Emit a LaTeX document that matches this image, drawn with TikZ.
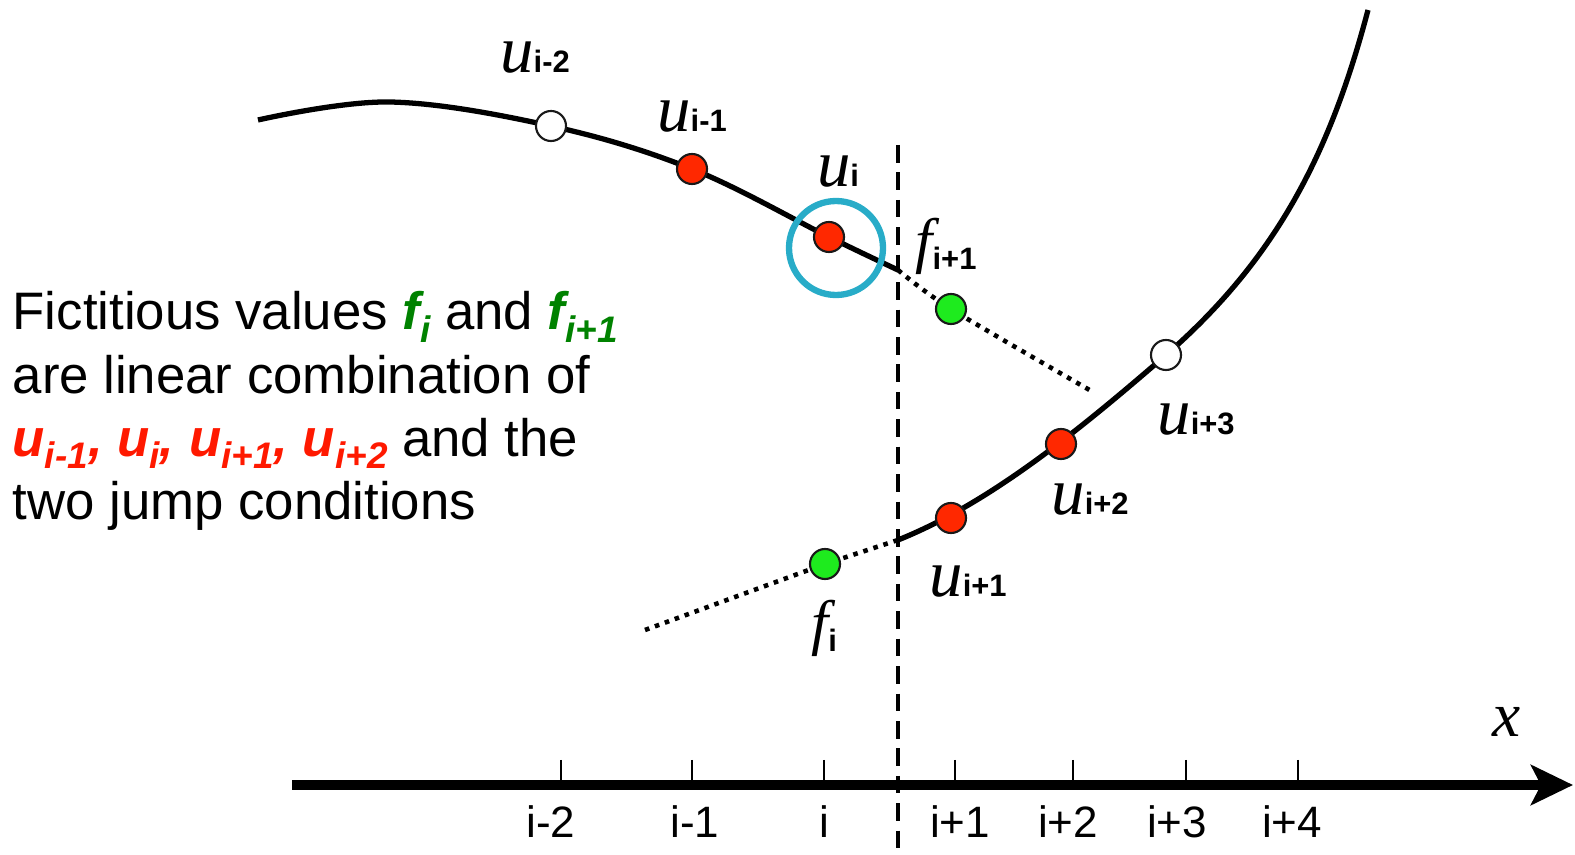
\documentclass[tikz,border=0pt]{standalone}
\usepackage{fontspec}
\setmainfont{Liberation Sans}
\newfontfamily\timesfont{Liberation Serif}
\usetikzlibrary{arrows.meta, positioning}

\definecolor{ptred}{RGB}{255,40,0}
\definecolor{ptgreen}{RGB}{30,235,30}
\definecolor{txtgreen}{RGB}{0,130,0}
\definecolor{txtred}{RGB}{255,25,0}
\definecolor{ringblue}{RGB}{40,172,200}

% labels on the curves
\newcommand{\uvar}[1]{{\fontsize{19}{19}\selectfont\timesfont\itshape u}{\fontsize{8.8}{9}\selectfont\bfseries #1}}
\newcommand{\fvar}[1]{{\fontsize{17.5}{18}\selectfont\timesfont\itshape f}\raisebox{-2.5pt}{\fontsize{8.8}{9}\selectfont\bfseries #1}}
% subscript in the text block
\newcommand{\bsub}[1]{\raisebox{-3.5pt}{\fontsize{10.5}{11}\selectfont #1}}

\begin{document}
\begin{tikzpicture}[
        x=0.01cm, y=-0.01cm,
        openpt/.style={
            circle,
            draw=black!90,
            line width=0.6pt,
            fill=white,
            minimum size=0.3cm,
            inner sep=0pt
        },
        redpt/.style={openpt, fill=ptred},
        greenpt/.style={openpt, fill=ptgreen},
        curve/.style={line width=1.5pt},
        extrap/.style={line width=1.3pt, dash pattern=on 1.3pt off 1.7pt},
        interface/.style={line width=1.4pt, dash pattern=on 5pt off 2.8pt},
        tickmark/.style={line width=0.6pt},
        axis/.style={line width=2.8pt, -{Stealth[length=0.42cm, width=0.4cm, inset=0.1cm]}},
        ticklabel/.style={font=\fontsize{12.5}{13}\selectfont, inner sep=0pt},
        ptlabel/.style={inner sep=0pt}
    ]

    \useasboundingbox (0,0) rectangle (1575,855);

    % grid points on the curves
    \coordinate (ustart) at (258,120);
    \coordinate (upeak)  at (390,102);
    \coordinate (pim2)   at (551,126);
    \coordinate (pim1)   at (692,169);
    \coordinate (pi)     at (829,237);
    \coordinate (jup)    at (898,270);
    \coordinate (fip1)   at (951,309);
    \coordinate (uend)   at (1093,392);
    \coordinate (lstart) at (645,630);
    \coordinate (fi)     at (825,564);
    \coordinate (jlo)    at (898,540);
    \coordinate (pip1)   at (951,518);
    \coordinate (pip2)   at (1061,444);
    \coordinate (pip3)   at (1166,355);
    \coordinate (lend)   at (1368,10);

    % interface
    \coordinate (itop) at (898,145);
    \coordinate (ibot) at (898,860);
    \draw [interface] (itop) -- (ibot);

    % solution curves and extrapolations
    \draw [curve] plot [smooth, tension=0.6] coordinates {(ustart) (upeak) (pim2) (pim1) (pi) (jup)};
    \draw [extrap] plot [smooth] coordinates {(jup) (fip1) (uend)};
    \draw [extrap] (lstart) -- (fi) -- (jlo);
    \draw [curve] (jlo) .. controls (988,504) and (1076,433) .. (pip3)
                        .. controls (1276,259) and (1330,154) .. (lend);

    \draw [ringblue, line width=1.8pt] (836,248) circle (47);

    \node (nim2) [openpt]  at (pim2) {};
    \node (nim1) [redpt]   at (pim1) {};
    \node (ni)   [redpt]   at (pi) {};
    \node (nfp1) [greenpt] at (fip1) {};
    \node (nfi)  [greenpt] at (fi) {};
    \node (nip1) [redpt]   at (pip1) {};
    \node (nip2) [redpt]   at (pip2) {};
    \node (nip3) [openpt]  at (pip3) {};

    \node (lim2) [ptlabel] at (535,58)  {\uvar{i-2}};
    \node (lim1) [ptlabel] at (692,117) {\uvar{i-1}};
    \node (li)   [ptlabel] at (838,172) {\uvar{i}};
    \node (lfp1) [ptlabel] at (946,246) {\fvar{i+1}};
    \node (lip3) [ptlabel] at (1196,420) {\uvar{i+3}};
    \node (lip2) [ptlabel] at (1090,500) {\uvar{i+2}};
    \node (lip1) [ptlabel] at (968,582) {\uvar{i+1}};
    \node (lfi)  [ptlabel] at (824,628) {\fvar{i}};

    % x axis
    \coordinate (xstart) at (292,785);
    \coordinate (xend)   at (1573,785);
    \draw [axis] (xstart) -- (xend);
    \node (xlabel) at (1507,722) {\fontsize{18}{18}\selectfont\timesfont\itshape x};

    \foreach \tx/\lx/\name in {561/551/i-2, 692/695/i-1, 824/824/i, 955/960/i+1, 1073/1068/i+2, 1186/1177/i+3, 1298/1292/i+4} {
        \draw [tickmark] (\tx,760) -- (\tx,785);
        \node [ticklabel] at (\lx,822) {\name};
    }

    % explanation
    \node (note) [anchor=north west, align=left, inner sep=0pt,
                  font=\fontsize{15}{18}\selectfont] at (12,291)
        {Fictitious values {\color{txtgreen}\bfseries\itshape f\bsub{i}} and {\color{txtgreen}\bfseries\itshape f\bsub{i+1}}\\
         are linear combination of\\
         {\color{txtred}\bfseries\itshape u\bsub{i-1}, u\bsub{i}, u\bsub{i+1}, u\bsub{i+2}} and the\\
         two jump conditions};

\end{tikzpicture}
\end{document}
